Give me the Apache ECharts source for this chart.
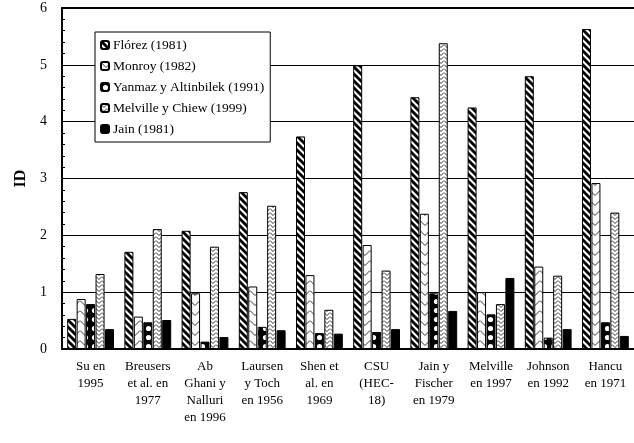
<!DOCTYPE html>
<html>
<head>
<meta charset="utf-8">
<script src="https://cdn.jsdelivr.net/npm/echarts@6/dist/echarts.min.js"></script>
<style>
  html, body { margin: 0; padding: 0; background: #fff; }
  #chart { width: 634px; height: 443px; }
</style>
</head>
<body>
<div id="chart"></div>
<script>
const categories = [
  "Su en\n1995", "Breusers\net al. en\n1977", "Ab\nGhani y\nNalluri\nen 1996",
  "Laursen\ny Toch\nen 1956", "Shen et\nal. en\n1969", "CSU\n(HEC-\n18)",
  "Jain y\nFischer\nen 1979", "Melville\nen 1997", "Johnson\nen 1992", "Hancu\nen 1971"
];
const seriesNames = [
  "Flórez (1981)", "Monroy (1982)", "Yanmaz y Altinbilek (1991)",
  "Melville y Chiew (1999)", "Jain (1981)"
];
const florez   = [0.53, 1.71, 2.08, 2.76, 3.74, 4.99, 4.43, 4.25, 4.80, 5.63];
const monroy   = [0.88, 0.57, 0.98, 1.10, 1.30, 1.83, 2.38, 1.00, 1.45, 2.92];
const yanmaz   = [0.79, 0.47, 0.13, 0.39, 0.28, 0.30, 0.98, 0.61, 0.20, 0.47];
const melville = [1.32, 2.11, 1.80, 2.52, 0.69, 1.38, 5.38, 0.79, 1.29, 2.40];
const jain     = [0.35, 0.51, 0.21, 0.33, 0.27, 0.35, 0.67, 1.25, 0.35, 0.23];
const values = [florez, monroy, yanmaz, melville, jain];

const FONT = "'Liberation Serif', 'Times New Roman', serif";

// small canvas tiles for the hatch fills
function tile(w, h, draw) {
  const c = document.createElement("canvas");
  c.width = w; c.height = h;
  const ctx = c.getContext("2d");
  ctx.fillStyle = "#fff";
  ctx.fillRect(0, 0, w, h);
  draw(ctx, w, h);
  return { image: c, repeat: "repeat" };
}

const stripes = tile(7, 7, (ctx) => {
  ctx.strokeStyle = "#000";
  ctx.lineWidth = 2.8;
  for (let k = -7; k <= 14; k += 7) {
    ctx.beginPath(); ctx.moveTo(k - 1, -1); ctx.lineTo(k + 8, 8); ctx.stroke();
  }
});
const chevron = tile(10, 10, (ctx) => {
  ctx.strokeStyle = "#333";
  ctx.lineWidth = 1;
  ctx.beginPath(); ctx.moveTo(0, 0.5); ctx.lineTo(5, 5.5); ctx.lineTo(10, 0.5); ctx.stroke();
  ctx.beginPath(); ctx.moveTo(0, 10.5); ctx.lineTo(5, 15.5); ctx.lineTo(10, 10.5); ctx.stroke();
});
const dots = tile(9, 9, (ctx) => {
  ctx.fillStyle = "#000";
  ctx.fillRect(0, 0, 9, 9);
  ctx.fillStyle = "#fff";
  ctx.beginPath(); ctx.arc(4.5, 4.5, 2.6, 0, Math.PI * 2); ctx.fill();
});
const zigzag = tile(6, 4, (ctx) => {
  ctx.strokeStyle = "#333";
  ctx.lineWidth = 1;
  ctx.beginPath(); ctx.moveTo(0, 0.5); ctx.lineTo(3, 3.5); ctx.lineTo(6, 0.5); ctx.stroke();
});
const fills = [stripes, chevron, dots, zigzag, "#000"];

const chart = echarts.init(document.getElementById("chart"));

const option = {
  animation: false,
  backgroundColor: "#fff",
  textStyle: { fontFamily: FONT, color: "#000" },
  grid: { left: 62, right: 0, top: 8, bottom: 94 },
  legend: {
    orient: "vertical",
    left: 95,
    top: 32,
    padding: [6, 6, 6, 5],
    itemGap: 7,
    itemWidth: 8,
    itemHeight: 8,
    backgroundColor: "#fff",
    borderColor: "#000",
    borderWidth: 1,
    textStyle: { fontFamily: FONT, fontSize: 13.5, color: "#000", padding: [0, 0, 0, -1] },
    data: seriesNames
  },
  xAxis: [
    {
      type: "category",
      data: categories,
      axisLine: { lineStyle: { color: "#000", width: 2 } },
      axisTick: { inside: true, length: 4, lineStyle: { color: "#000" } },
      axisLabel: {
        color: "#000",
        fontFamily: FONT,
        fontSize: 13,
        lineHeight: 17,
        margin: 9,
        interval: 0
      }
    },
    {
      type: "category",
      position: "top",
      data: categories,
      axisLine: { lineStyle: { color: "#000", width: 2 } },
      axisTick: { show: false },
      axisLabel: { show: false }
    }
  ],
  yAxis: {
    type: "value",
    min: 0,
    max: 6,
    interval: 1,
    name: "ID",
    nameLocation: "middle",
    nameGap: 30,
    nameTextStyle: { fontFamily: FONT, fontSize: 16, fontWeight: "bold", color: "#000" },
    axisLine: { show: true, lineStyle: { color: "#000", width: 2 } },
    axisTick: { show: true, inside: true, length: 5, lineStyle: { color: "#000" } },
    minorTick: { show: true, splitNumber: 5, length: 3, lineStyle: { color: "#000" } },
    axisLabel: { color: "#000", fontFamily: FONT, fontSize: 14, margin: 15 },
    splitLine: { lineStyle: { color: "#000", width: 1 } }
  },
  series: seriesNames.map((name, i) => ({
    name: name,
    type: "bar",
    barWidth: 9,
    barGap: "5%",
    data: values[i],
    itemStyle: { color: fills[i], borderColor: "#000", borderWidth: 1 }
  }))
};

chart.setOption(option);
</script>
</body>
</html>
